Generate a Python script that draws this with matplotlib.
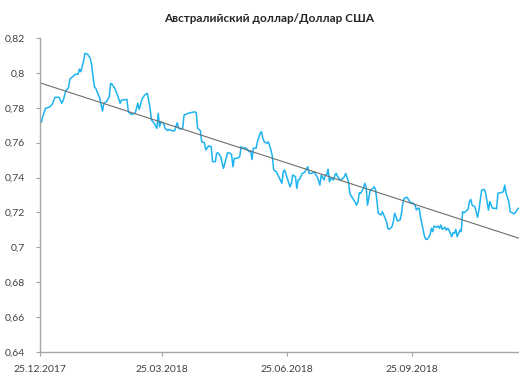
import datetime as dt

import matplotlib

matplotlib.use("Agg")
import matplotlib.dates as mdates
import matplotlib.pyplot as plt
import numpy as np
from matplotlib.ticker import FuncFormatter, MultipleLocator

# AUD/USD daily close, as day offset from 25.12.2017 and rate
start = dt.date(2017, 12, 25)
day_offset = [
    1, 2, 4, 7, 9, 11, 14, 16, 17, 19, 21, 22, 24, 26, 28, 29, 30, 32, 33, 35,
    37, 38, 40, 41, 43, 44, 46, 47, 49, 51, 52, 53, 55, 57, 59, 60, 64, 65, 67, 70,
    72, 73, 75, 77, 79, 81, 82, 84, 86, 87, 88, 89, 91, 92, 94, 95, 97, 99, 101, 102,
    104, 105, 106, 109, 111, 114, 115, 116, 118, 119, 121, 122, 124, 126, 127, 129, 130, 131, 133, 135,
    136, 138, 140, 141, 142, 143, 145, 147, 148, 149, 151, 153, 154, 155, 156, 157, 159, 160, 162, 163,
    164, 165, 167, 168, 170, 171, 172, 174, 175, 176, 178, 179, 180, 182, 184, 185, 186, 188, 189, 190,
    191, 193, 194, 195, 197, 198, 200, 202, 203, 204, 206, 207, 209, 210, 211, 212, 213, 214, 216, 217,
    218, 219, 221, 222, 224, 225, 227, 228, 229, 231, 233, 234, 235, 236, 238, 239, 240, 241, 243, 244,
    246, 247, 248, 249, 251, 252, 253, 254, 255, 256, 257, 259, 260, 261, 262, 263, 265, 266, 267, 268,
    270, 271, 273, 274, 276, 277, 278, 279, 280, 282, 283, 284, 285, 287, 288, 289, 290, 292, 293, 294,
    295, 296, 298, 299, 300, 301, 303, 304, 305, 306, 307, 309, 310, 311, 312, 313, 315, 316, 317, 318,
    320, 321, 322, 323, 324, 325, 327, 328, 330, 331, 332, 333, 335, 336, 337, 339, 341, 342, 343, 345,
    346, 348, 349, 351, 352,
]
rate = [
    0.7717, 0.7749, 0.7797, 0.7804, 0.7820, 0.7860, 0.7860, 0.7826, 0.7840, 0.7898,
    0.7915, 0.7965, 0.7978, 0.7992, 0.7992, 0.8022, 0.8007, 0.8064, 0.8112, 0.8107,
    0.8084, 0.8045, 0.7921, 0.7912, 0.7873, 0.7856, 0.7781, 0.7826, 0.7835, 0.7864,
    0.7940, 0.7935, 0.7912, 0.7873, 0.7826, 0.7844, 0.7848, 0.7777, 0.7762, 0.7768,
    0.7826, 0.7791, 0.7848, 0.7873, 0.7883, 0.7797, 0.7730, 0.7711, 0.7682, 0.7768,
    0.7691, 0.7720, 0.7711, 0.7682, 0.7669, 0.7676, 0.7669, 0.7667, 0.7714, 0.7682,
    0.7678, 0.7682, 0.7758, 0.7768, 0.7772, 0.7777, 0.7770, 0.7682, 0.7669, 0.7605,
    0.7600, 0.7558, 0.7581, 0.7577, 0.7491, 0.7491, 0.7539, 0.7542, 0.7520, 0.7453,
    0.7481, 0.7542, 0.7539, 0.7530, 0.7462, 0.7510, 0.7510, 0.7520, 0.7577, 0.7568,
    0.7572, 0.7558, 0.7548, 0.7553, 0.7504, 0.7568, 0.7568, 0.7605, 0.7654, 0.7663,
    0.7625, 0.7605, 0.7596, 0.7605, 0.7558, 0.7520, 0.7443, 0.7433, 0.7415, 0.7400,
    0.7367, 0.7433, 0.7443, 0.7395, 0.7347, 0.7367, 0.7415, 0.7405, 0.7338, 0.7386,
    0.7390, 0.7424, 0.7427, 0.7433, 0.7462, 0.7424, 0.7424, 0.7433, 0.7415, 0.7405,
    0.7357, 0.7415, 0.7386, 0.7415, 0.7415, 0.7448, 0.7376, 0.7396, 0.7386, 0.7415,
    0.7424, 0.7405, 0.7386, 0.7390, 0.7405, 0.7424, 0.7376, 0.7310, 0.7294, 0.7271,
    0.7242, 0.7262, 0.7313, 0.7310, 0.7338, 0.7367, 0.7347, 0.7242, 0.7328, 0.7332,
    0.7347, 0.7328, 0.7262, 0.7195, 0.7185, 0.7204, 0.7185, 0.7166, 0.7147, 0.7109,
    0.7103, 0.7118, 0.7147, 0.7195, 0.7176, 0.7151, 0.7157, 0.7195, 0.7252, 0.7281,
    0.7287, 0.7276, 0.7252, 0.7256, 0.7242, 0.7214, 0.7224, 0.7224, 0.7175, 0.7099,
    0.7061, 0.7046, 0.7046, 0.7070, 0.7109, 0.7090, 0.7122, 0.7115, 0.7122, 0.7109,
    0.7128, 0.7103, 0.7115, 0.7099, 0.7109, 0.7099, 0.7061, 0.7084, 0.7080, 0.7103,
    0.7061, 0.7099, 0.7090, 0.7204, 0.7198, 0.7204, 0.7218, 0.7262, 0.7275, 0.7242,
    0.7233, 0.7204, 0.7172, 0.7214, 0.7271, 0.7328, 0.7332, 0.7310, 0.7214, 0.7262,
    0.7242, 0.7224, 0.7224, 0.7220, 0.7310, 0.7313, 0.7319, 0.7357, 0.7310, 0.7262,
    0.7204, 0.7195, 0.7192, 0.7214, 0.7224,
]
tick_dates = [dt.date(2017, 12, 25), dt.date(2018, 3, 25),
              dt.date(2018, 6, 25), dt.date(2018, 9, 25)]
title = "Австралийский доллар/Доллар США"

plt.rcParams["font.family"] = ["Lato", "Open Sans", "DejaVu Sans"]

dates = [start + dt.timedelta(days=d) for d in day_offset]
x = mdates.date2num(dates)
x0 = mdates.date2num(start)
x1 = x0 + 352.5

# linear trend over the whole series
k, b = np.polyfit(x, rate, 1)

fig = plt.figure(figsize=(5.19, 3.72), dpi=100)
ax = fig.add_axes([40 / 519, 1 - 352 / 372, 1 - 40 / 519, 314 / 372])

ax.plot(x, rate, color="#1CB3F0", lw=1.1, solid_joinstyle="round")
ax.plot([x0, x1], [k * x0 + b, k * x1 + b], color="#6E6E6E", lw=0.8)

ax.set_xlim(x0, x1)
ax.set_ylim(0.64, 0.82)
ax.yaxis.set_major_locator(MultipleLocator(0.02))
ax.yaxis.set_major_formatter(
    FuncFormatter(lambda v, _: f"{v:.2f}".rstrip("0").replace(".", ",")))
ax.set_xticks(mdates.date2num(tick_dates))
ax.set_xticklabels([d.strftime("%d.%m.%Y") for d in tick_dates])

for side in ("top", "right"):
    ax.spines[side].set_visible(False)
for side in ("left", "bottom"):
    ax.spines[side].set_color("#A6A6A6")
    ax.spines[side].set_linewidth(1.0)
ax.tick_params(axis="both", colors="#A6A6A6", labelcolor="#404040",
               labelsize=7.5, length=3, width=0.8)
ax.tick_params(axis="x", pad=6)
ax.tick_params(axis="y", pad=8)

fig.text(0.518, 1 - 19 / 372, title, ha="center", va="center",
         fontsize=8.5, fontweight="bold", color="#262626")

fig.savefig("out.png", dpi=100)
